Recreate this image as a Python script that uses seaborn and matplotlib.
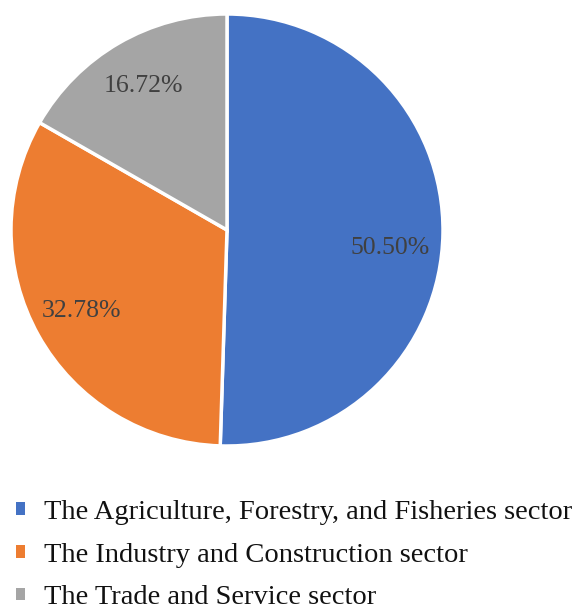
import matplotlib
matplotlib.use("Agg")
import numpy as np
import matplotlib.pyplot as plt
import seaborn as sns
from matplotlib.patches import Rectangle

sectors = ["The Agriculture, Forestry, and Fisheries sector",
           "The Industry and Construction sector",
           "The Trade and Service sector"]
shares = [50.50, 32.78, 16.72]
colors = ["#4472C4", "#ED7D31", "#A5A5A5"]

sns.set_theme(style="white")
plt.rcParams['font.family'] = ['Liberation Serif', 'DejaVu Serif']

fig = plt.figure(figsize=(5.77, 6.08), dpi=100)
ax = fig.add_axes([11/577, (608-446)/608, 432/577, 432/608])
wedges, texts, autotexts = ax.pie(
    shares, colors=colors, startangle=90, counterclock=False,
    autopct=lambda p: f"{p:.2f}%", pctdistance=0.77,
    wedgeprops=dict(edgecolor="white", linewidth=2.5),
    textprops=dict(color="#404040", fontsize=18.5))
# Excel-style best-fit nudge for the largest slice label
a = np.deg2rad(-6.3)
autotexts[0].set_position((0.76 * np.cos(a), 0.76 * np.sin(a)))
ax.set_xlim(-1, 1)
ax.set_ylim(-1, 1)
ax.set_aspect("equal")
ax.axis("off")

handles = [Rectangle((0, 0), 1, 1, facecolor=c, edgecolor="none") for c in colors]
leg = fig.legend(handles, sectors, loc="upper left", bbox_to_anchor=(16/577, 1 - 500/608),
                 frameon=False, fontsize=20.5, handlelength=0.3, handleheight=0.3,
                 handletextpad=0.7, labelspacing=0.62, borderaxespad=0, borderpad=0)
for t in leg.get_texts():
    t.set_color("#111111")

fig.savefig("out.png", dpi=100)
